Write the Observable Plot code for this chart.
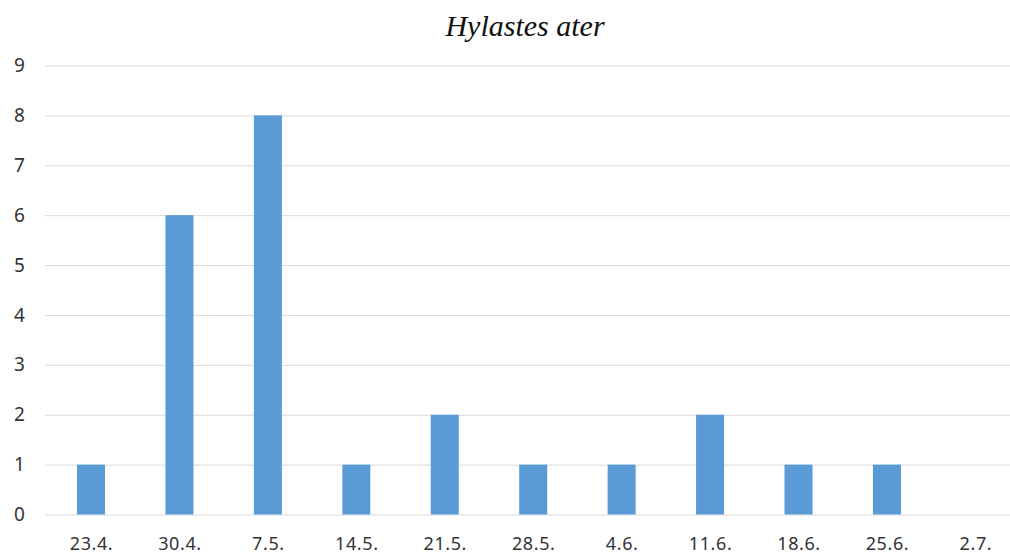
<!DOCTYPE html>
<html>
<head>
<meta charset="utf-8">
<script src="https://cdn.jsdelivr.net/npm/d3@7"></script>
<script src="https://cdn.jsdelivr.net/npm/@observablehq/plot@0.6"></script>
<style>
  html, body { margin: 0; padding: 0; background: #fff; }
  #title { position: relative; height: 50px; width: 1010px; }
  #title span { position: absolute; left: 40px; width: 970px; top: 0; text-align: center; font-family: "Liberation Serif", serif; font-style: italic; font-size: 30px; line-height: 30px; padding-top: 11px; color: #111; }
  #chart svg { display: block; }
</style>
</head>
<body>
<div id="title"><span>Hylastes ater</span></div>
<div id="chart"></div>
<script>
const dates = ["23.4.", "30.4.", "7.5.", "14.5.", "21.5.", "28.5.", "4.6.", "11.6.", "18.6.", "25.6.", "2.7."];
const counts = [1, 6, 8, 1, 2, 1, 1, 2, 1, 1, 0];
const yTicks = [0, 1, 2, 3, 4, 5, 6, 7, 8, 9];

const data = dates.map((d, i) => ({date: d, count: counts[i]}));

const chart = Plot.plot({
  width: 1010,
  height: 506,
  marginTop: 15.5,
  marginBottom: 41.5,
  marginLeft: 45,
  marginRight: 0,
  style: {fontFamily: "'Noto Sans', sans-serif", fontSize: "18px", letterSpacing: "0.6px", color: "#333", background: "#fff"},
  x: {domain: dates, range: [46.8, 1019.6], paddingInner: 0.683, paddingOuter: 0.3415, round: false, label: null},
  y: {domain: [0, 9], label: null},
  marks: [
    Plot.ruleY(yTicks, {stroke: "#d9d9d9", strokeWidth: 1}),
    Plot.barY(data, {x: "date", y: "count", fill: "#5b9bd5"}),
    Plot.axisY(yTicks, {tickSize: 0, tickPadding: 20, tickFormat: "d", label: null, fill: "#333", fontSize: 19}),
    Plot.axisX({tickSize: 0, tickPadding: 22, label: null, fill: "#333"})
  ]
});
document.getElementById("chart").appendChild(chart);
</script>
</body>
</html>
